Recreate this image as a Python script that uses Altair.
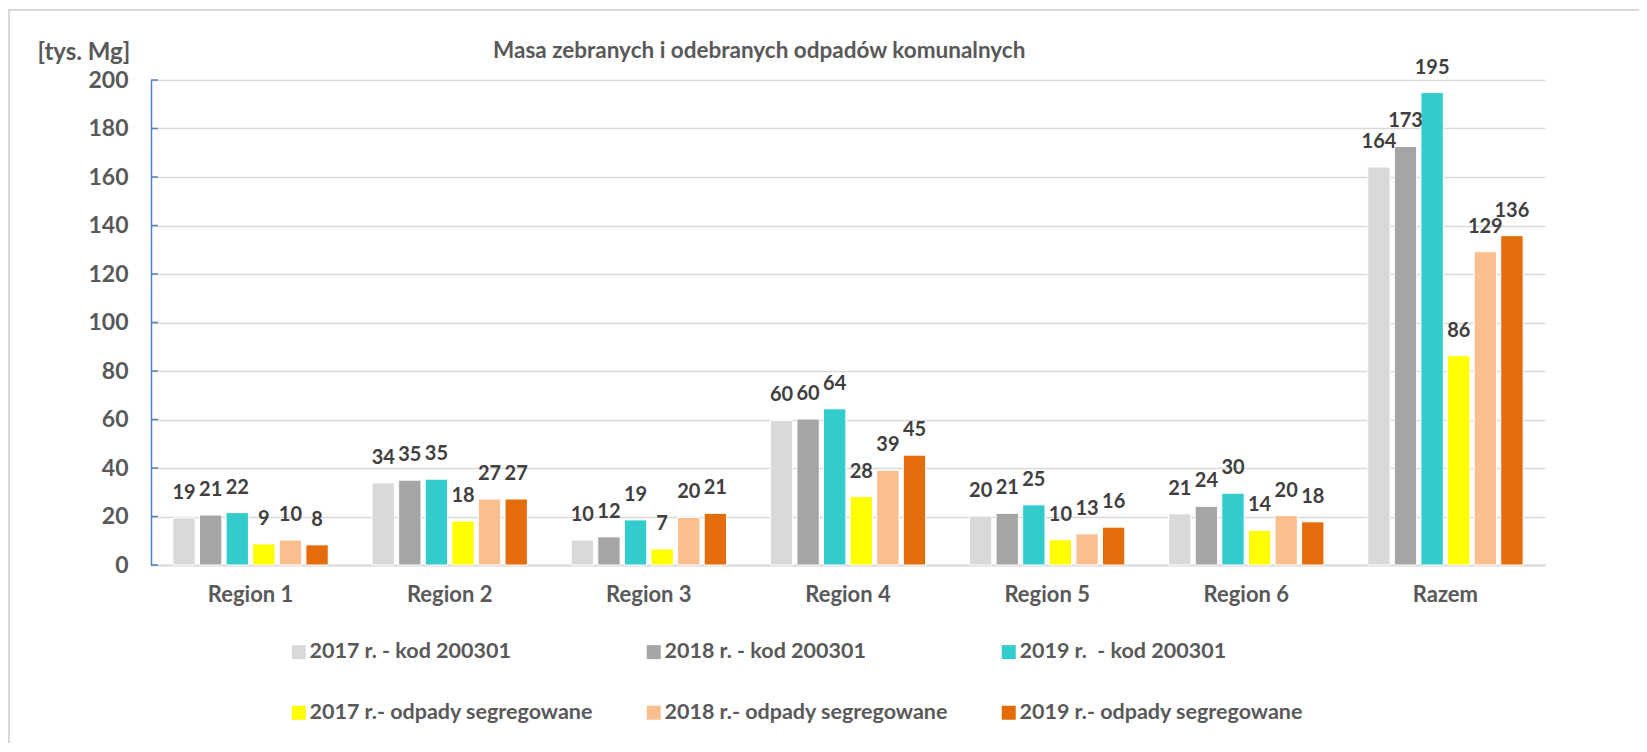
import altair as alt
import pandas as pd

categories = ["Region 1", "Region 2", "Region 3", "Region 4", "Region 5", "Region 6", "Razem"]
series = [
    "2017 r. - kod 200301",
    "2018 r. - kod 200301",
    "2019 r.\u00a0 - kod 200301",
    "2017 r.- odpady segregowane",
    "2018 r.- odpady segregowane",
    "2019 r.- odpady segregowane",
]
colors = ["#D9D9D9", "#A5A5A5", "#33CCCC", "#FFFF00", "#F9BF8F", "#E46C0A"]

kod_2017 = [19.4, 33.8, 10.3, 59.6, 20.2, 21.1, 164.1]
kod_2018 = [20.6, 35.0, 11.6, 60.2, 21.3, 24.2, 172.6]
kod_2019 = [21.6, 35.4, 18.6, 64.4, 24.8, 29.6, 194.8]
seg_2017 = [8.7, 18.1, 6.6, 28.2, 10.4, 14.3, 86.3]
seg_2018 = [10.3, 27.2, 19.6, 39.1, 12.8, 20.4, 129.2]
seg_2019 = [8.3, 27.2, 21.3, 45.3, 15.6, 17.8, 135.8]
y_ticks = list(range(0, 201, 20))

title_text = "Masa zebranych i odebranych odpadów komunalnych"
y_title = "[tys. Mg]"

rows = []
for s, vals in zip(series, [kod_2017, kod_2018, kod_2019, seg_2017, seg_2018, seg_2019]):
    for c, v in zip(categories, vals):
        rows.append({"category": c, "series": s, "value": v})
df = pd.DataFrame(rows)

FONT = "Lato"
TXT = "#595959"

x_enc = alt.X(
    "category:N", sort=categories,
    scale=alt.Scale(paddingInner=0.22, paddingOuter=0.11),
    axis=alt.Axis(title=None, labelAngle=0, ticks=False, domainColor="#D9D9D9", domainWidth=2,
                  labelFont=FONT, labelFontSize=22, labelFontWeight="bold", labelColor=TXT,
                  labelPadding=19),
)
xo_enc = alt.XOffset("series:N", sort=series, scale=alt.Scale(paddingInner=0.16))
y_enc = alt.Y(
    "value:Q", scale=alt.Scale(domain=[0, 200], nice=False),
    axis=alt.Axis(values=y_ticks, ticks=False, domainColor="#4F81BD", domainWidth=1.5,
                  grid=True, gridColor="#D9D9D9", gridWidth=1.5,
                  labelFont=FONT, labelFontSize=23, labelFontWeight="bold", labelColor=TXT,
                  labelPadding=23,
                  title=y_title, titleAngle=0, titleX=-114, titleY=-21, titleAlign="left",
                  titleBaseline="alphabetic", titleFont=FONT, titleFontSize=24,
                  titleFontWeight="bold", titleColor=TXT),
)

base = alt.Chart(df).encode(x=x_enc, xOffset=xo_enc, y=y_enc)

bars = base.mark_bar(stroke="white", strokeWidth=1).encode(
    color=alt.Color(
        "series:N", sort=series,
        scale=alt.Scale(domain=series, range=colors),
        legend=alt.Legend(
            title=None, orient="none", legendX=137, legendY=561, columns=3,
            direction="horizontal",
            symbolType="square", symbolSize=196, symbolStrokeWidth=0, symbolOpacity=1,
            labelFont=FONT, labelFontSize=21.5, labelFontWeight="bold", labelColor=TXT,
            labelOffset=0, labelLimit=0, columnPadding=49, rowPadding=38,
        ),
    )
)

labels = base.mark_text(
    font=FONT, fontSize=20, fontWeight="bold", color="#404040",
    baseline="alphabetic", dy=-19,
).encode(text=alt.Text("value:Q", format=".0f"))

tick_df = pd.DataFrame({"value": y_ticks})
ticks = alt.Chart(tick_df).mark_rule(color="#4F81BD", strokeWidth=1.5).encode(
    y=y_enc, x=alt.value(0), x2=alt.value(7)
)

title_df = pd.DataFrame({"t": [title_text]})
title_mark = alt.Chart(title_df).mark_text(
    font=FONT, fontSize=22.5, fontWeight="bold", color=TXT, align="left", baseline="alphabetic"
).encode(text="t:N", x=alt.value(342), y=alt.value(-22))

one = pd.DataFrame({"k": [0]})
border_left = alt.Chart(one).mark_rule(color="#D9D9D9", strokeWidth=2).encode(
    x=alt.value(-142), y=alt.value(-70), y2=alt.value(663)
)
border_top = alt.Chart(one).mark_rule(color="#D9D9D9", strokeWidth=2).encode(
    x=alt.value(-143), x2=alt.value(1488), y=alt.value(-70)
)

chart = alt.layer(border_left, border_top, bars, labels, ticks, title_mark).properties(
    width=1394, height=485,
    autosize=alt.AutoSizeParams(type="none"),
    padding={"left": 143, "top": 72, "right": 94, "bottom": 179},
    background="white",
).configure_view(stroke=None)

chart.save("out.html", embed_options={"renderer": "svg", "actions": False})
